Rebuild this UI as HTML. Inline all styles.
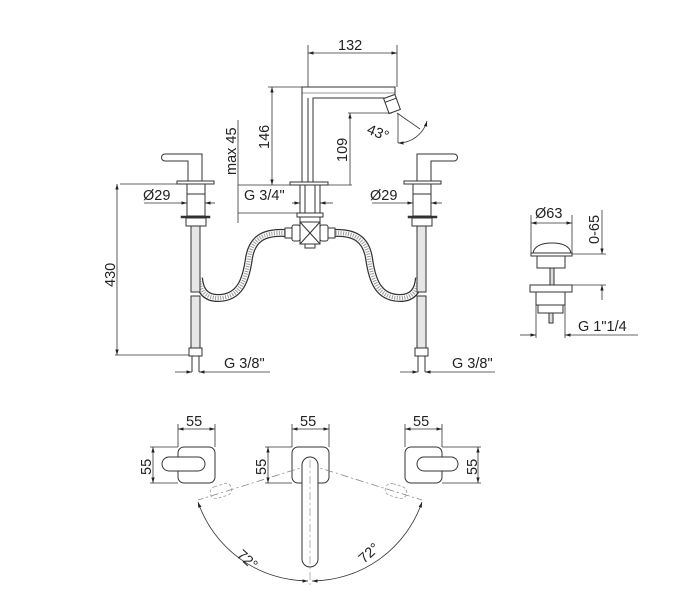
<!DOCTYPE html>
<html><head><meta charset="utf-8"><style>
html,body{margin:0;padding:0;background:#fff}
svg{display:block}
text{font-family:"Liberation Sans",sans-serif;fill:#222}
</style></head><body>
<svg width="696" height="600" viewBox="0 0 696 600" xmlns="http://www.w3.org/2000/svg">
<defs>
<marker id="a" viewBox="0 0 10 10" refX="10" refY="5" markerWidth="7" markerHeight="7" orient="auto-start-reverse"><path d="M0,2 L10,5 L0,8z" fill="#222"/></marker>
</defs>
<g stroke="#333" stroke-width="1" fill="none">
<!-- spout -->
<path d="M302,185 V87 H395 V98 H313 V185"/>
<line x1="308" y1="98" x2="308" y2="185"/>
<line x1="302" y1="93" x2="395" y2="93" stroke-width="0.5"/>
<g transform="rotate(-20 392 104)"><rect x="386" y="96" width="12" height="16" fill="#fff"/><line x1="386" y1="100" x2="398" y2="100"/></g>
<rect x="290" y="182" width="38" height="3" fill="#fff"/>
<rect x="300" y="185" width="20" height="28" fill="#fff"/>
<line x1="305" y1="185" x2="305" y2="213"/><line x1="315" y1="185" x2="315" y2="213"/>
<rect x="297" y="213" width="26" height="4" fill="#fff"/>
<rect x="300" y="217" width="20" height="6" fill="#fff"/>
<!-- hoses -->
<g stroke-linecap="butt">
<path id="hl" d="M285,233 C262,232 252,240 249,258 C246,280 240,298 218,298 C205,298 200,290 199,278" stroke="#333" stroke-width="8"/>
<path d="M285,233 C262,232 252,240 249,258 C246,280 240,298 218,298 C205,298 200,290 199,278" stroke="#fff" stroke-width="5.5"/>
<path d="M285,233 C262,232 252,240 249,258 C246,280 240,298 218,298 C205,298 200,290 199,278" stroke="#999" stroke-width="4" stroke-dasharray="1 1.5"/>
<path d="M333,233 C356,232 366,240 369,258 C372,280 378,298 400,298 C413,298 418,290 419,278" stroke="#333" stroke-width="8"/>
<path d="M333,233 C356,232 366,240 369,258 C372,280 378,298 400,298 C413,298 418,290 419,278" stroke="#fff" stroke-width="5.5"/>
<path d="M333,233 C356,232 366,240 369,258 C372,280 378,298 400,298 C413,298 418,290 419,278" stroke="#999" stroke-width="4" stroke-dasharray="1 1.5"/>
</g>
<!-- cross fitting -->
<rect x="300" y="222" width="20" height="22" fill="#fff"/>
<line x1="300" y1="222" x2="320" y2="244"/><line x1="320" y1="222" x2="300" y2="244"/>
<rect x="292" y="225" width="8" height="16" fill="#fff" rx="2"/>
<rect x="320" y="225" width="8" height="16" fill="#fff" rx="2"/>
<rect x="285" y="228" width="7" height="10" fill="#fff"/>
<rect x="328" y="228" width="7" height="10" fill="#fff"/>
<rect x="305" y="244" width="10" height="4" fill="#fff"/>
<!-- left handle -->
<path d="M202,182 V154 H165 a3,3 0 0 0 0,7 H188 V182"/>
<rect x="177" y="181" width="37" height="3" fill="#fff"/>
<rect x="187" y="184" width="18" height="32" fill="#fff"/>
<line x1="187" y1="194" x2="205" y2="194"/>
<rect x="181" y="216" width="29" height="2" fill="#333" stroke-width="0.5"/>
<rect x="186" y="218" width="20" height="8" fill="#fff"/>
<rect x="191" y="226" width="9" height="66" fill="#e6e6e6"/>
<rect x="191" y="296" width="9" height="52" fill="#e6e6e6"/>
<rect x="189" y="348" width="13" height="8" fill="#fff"/>
<line x1="192" y1="356" x2="192" y2="372"/><line x1="199" y1="356" x2="199" y2="372"/>
<!-- right handle -->
<path d="M417,182 V154 H454 a3,3 0 0 1 0,7 H431 V182"/>
<rect x="404" y="181" width="37" height="3" fill="#fff"/>
<rect x="413" y="184" width="18" height="32" fill="#fff"/>
<line x1="413" y1="194" x2="431" y2="194"/>
<rect x="408" y="216" width="29" height="2" fill="#333" stroke-width="0.5"/>
<rect x="412" y="218" width="20" height="8" fill="#fff"/>
<rect x="417" y="226" width="9" height="66" fill="#e6e6e6"/>
<rect x="417" y="296" width="9" height="52" fill="#e6e6e6"/>
<rect x="415" y="348" width="13" height="8" fill="#fff"/>
<line x1="418" y1="356" x2="418" y2="372"/><line x1="425" y1="356" x2="425" y2="372"/>
</g>
<!-- dimensions top -->
<g stroke="#333" stroke-width="0.8" fill="none">
<line x1="308" y1="45" x2="308" y2="87"/><line x1="397" y1="45" x2="397" y2="87"/>
<line x1="308" y1="53" x2="397" y2="53" marker-start="url(#a)" marker-end="url(#a)"/>
<line x1="268" y1="87" x2="302" y2="87"/>
<line x1="272" y1="87" x2="272" y2="185" marker-start="url(#a)" marker-end="url(#a)"/>
<line x1="238" y1="185" x2="352" y2="185"/>
<line x1="348" y1="113" x2="392" y2="113"/>
<line x1="350" y1="113" x2="350" y2="185" marker-start="url(#a)"/>
<line x1="238" y1="120" x2="238" y2="223"/>
<line x1="238" y1="213" x2="300" y2="213"/>
<line x1="292" y1="203" x2="300" y2="203" marker-end="url(#a)"/><line x1="333" y1="203" x2="320" y2="203" marker-end="url(#a)"/>
<line x1="398" y1="113" x2="398" y2="143"/><line x1="397" y1="113" x2="420" y2="129"/>
<path d="M398,143 A30,30 0 0 0 427,121" marker-start="url(#a)" marker-end="url(#a)"/>
<line x1="120" y1="184" x2="177" y2="184"/><line x1="115" y1="355" x2="189" y2="355"/>
<line x1="117" y1="184" x2="117" y2="355" marker-start="url(#a)" marker-end="url(#a)"/>
<line x1="144" y1="203" x2="187" y2="203" marker-end="url(#a)"/><line x1="215" y1="203" x2="205" y2="203" marker-end="url(#a)"/>
<line x1="372" y1="203" x2="413" y2="203" marker-end="url(#a)"/><line x1="442" y1="203" x2="431" y2="203" marker-end="url(#a)"/>
<line x1="175" y1="372" x2="192" y2="372" marker-end="url(#a)"/><line x1="270" y1="372" x2="199" y2="372" marker-end="url(#a)"/>
<line x1="400" y1="372" x2="418" y2="372" marker-end="url(#a)"/><line x1="495" y1="372" x2="425" y2="372" marker-end="url(#a)"/>
</g>
<g font-size="14.5">
<text x="338" y="50">132</text>
<text x="269" y="149" transform="rotate(-90 269 149)">146</text>
<text x="347" y="162" transform="rotate(-90 347 162)">109</text>
<text x="236" y="175" transform="rotate(-90 236 175)">max 45</text>
<text x="366" y="133" transform="rotate(22 366 133)">43°</text>
<text x="244" y="200">G 3/4"</text>
<text x="143" y="200">Ø29</text>
<text x="370" y="200">Ø29</text>
<text x="115" y="287" transform="rotate(-90 115 287)">430</text>
<text x="224" y="368">G 3/8"</text>
<text x="452" y="368">G 3/8"</text>
</g>
<!-- waste -->
<g stroke="#333" stroke-width="1" fill="none">
<path d="M533,253 Q535,243 552,243 Q569,243 571,253 Z" fill="#fff"/>
<rect x="531" y="253" width="41" height="3" fill="#fff"/>
<rect x="537" y="256" width="28" height="12" fill="#fff"/>
<rect x="550" y="268" width="4" height="17" fill="#ddd"/>
<rect x="530" y="285" width="42" height="7" fill="#fff"/>
<rect x="536" y="292" width="29" height="13" fill="#fff"/>
<rect x="538" y="305" width="25" height="8" fill="#fff"/>
<rect x="549" y="313" width="4" height="10" fill="#ddd"/>
</g>
<g stroke="#333" stroke-width="0.8" fill="none">
<line x1="531" y1="215" x2="531" y2="253"/><line x1="572" y1="215" x2="572" y2="253"/>
<line x1="531" y1="223" x2="572" y2="223" marker-start="url(#a)" marker-end="url(#a)"/>
<line x1="572" y1="254" x2="606" y2="254"/><line x1="572" y1="285" x2="606" y2="285"/>
<line x1="602" y1="210" x2="602" y2="254" marker-end="url(#a)"/><line x1="602" y1="300" x2="602" y2="285" marker-end="url(#a)"/>
<line x1="536" y1="305" x2="536" y2="338"/><line x1="565" y1="305" x2="565" y2="338"/>
<line x1="520" y1="335" x2="536" y2="335" marker-end="url(#a)"/><line x1="638" y1="335" x2="565" y2="335" marker-end="url(#a)"/>
</g>
<g font-size="14.5">
<text x="535" y="218">Ø63</text>
<text x="599" y="244" transform="rotate(-90 599 244)">0-65</text>
<text x="578" y="331">G 1"1/4</text>
</g>
<!-- bottom view -->
<g stroke="#333" stroke-width="1" fill="none">
<rect x="178" y="447" width="37" height="36" rx="6" fill="#fff"/>
<rect x="162" y="457" width="43" height="14" rx="7" fill="#fff"/>
<rect x="292" y="447" width="37" height="36" rx="6" fill="#fff"/>
<rect x="405" y="447" width="37" height="36" rx="6" fill="#fff"/>
<rect x="417" y="457" width="41" height="14" rx="7" fill="#fff"/>
</g>
<g stroke="#888" stroke-width="0.8" fill="none" stroke-dasharray="8 3 2 3">
<line x1="310" y1="465" x2="198" y2="500"/><line x1="310" y1="465" x2="422" y2="500"/>
</g>
<g stroke="#999" stroke-width="0.8" fill="none" stroke-dasharray="3 2">
<rect x="210" y="485" width="22" height="12" rx="6" transform="rotate(-17 221 491)"/>
<rect x="385" y="485" width="22" height="12" rx="6" transform="rotate(17 396 491)"/>
</g>
<rect x="302" y="457" width="16" height="110" rx="8" fill="#fff" stroke="#333" stroke-width="1"/>
<line x1="310" y1="460" x2="310" y2="585" stroke="#888" stroke-width="0.6" stroke-dasharray="8 3 2 3"/>
<g stroke="#333" stroke-width="0.8" fill="none">
<path d="M198,502 A117,117 0 0 0 308,581" marker-start="url(#a)" marker-end="url(#a)"/>
<path d="M312,581 A117,117 0 0 0 422,502" marker-start="url(#a)" marker-end="url(#a)"/>
<line x1="178" y1="424" x2="178" y2="447"/><line x1="215" y1="424" x2="215" y2="447"/>
<line x1="178" y1="429" x2="215" y2="429" marker-start="url(#a)" marker-end="url(#a)"/>
<line x1="150" y1="447" x2="178" y2="447"/><line x1="150" y1="483" x2="178" y2="483"/>
<line x1="153" y1="447" x2="153" y2="483" marker-start="url(#a)" marker-end="url(#a)"/>
<line x1="292" y1="424" x2="292" y2="447"/><line x1="329" y1="424" x2="329" y2="447"/>
<line x1="292" y1="429" x2="329" y2="429" marker-start="url(#a)" marker-end="url(#a)"/>
<line x1="265" y1="447" x2="292" y2="447"/><line x1="265" y1="483" x2="292" y2="483"/>
<line x1="268" y1="447" x2="268" y2="483" marker-start="url(#a)" marker-end="url(#a)"/>
<line x1="405" y1="424" x2="405" y2="447"/><line x1="442" y1="424" x2="442" y2="447"/>
<line x1="405" y1="429" x2="442" y2="429" marker-start="url(#a)" marker-end="url(#a)"/>
<line x1="442" y1="447" x2="481" y2="447"/><line x1="442" y1="483" x2="481" y2="483"/>
<line x1="478" y1="447" x2="478" y2="483" marker-start="url(#a)" marker-end="url(#a)"/>
</g>
<g font-size="14.5">
<text x="186" y="426">55</text>
<text x="300" y="426">55</text>
<text x="413" y="426">55</text>
<text x="151" y="475" transform="rotate(-90 151 475)">55</text>
<text x="266" y="475" transform="rotate(-90 266 475)">55</text>
<text x="477" y="475" transform="rotate(-90 477 475)">55</text>
<text x="236" y="556" transform="rotate(42 236 556)">72°</text>
<text x="364" y="564" transform="rotate(-42 364 564)">72°</text>
</g>
</svg>
</body></html>
